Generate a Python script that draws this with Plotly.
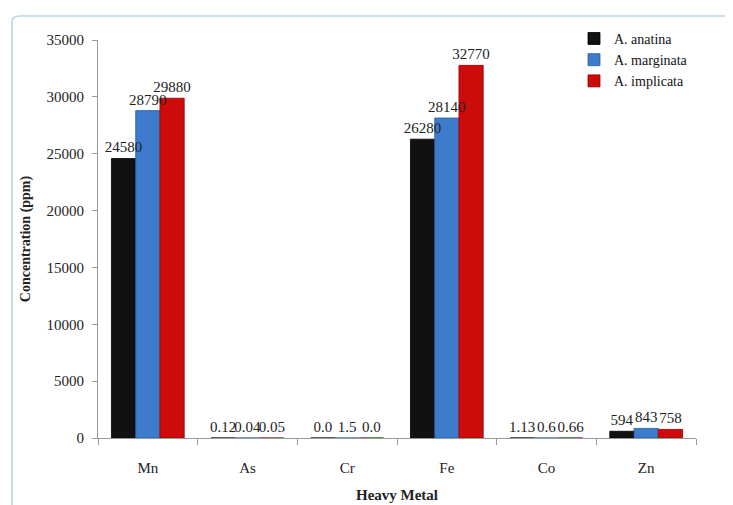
import plotly.graph_objects as go

metals = ["Mn", "As", "Cr", "Fe", "Co", "Zn"]
anatina = [24580, 0.12, 0.0, 26280, 1.13, 594]
marginata = [28790, 0.04, 1.5, 28140, 0.6, 843]
implicata = [29880, 0.05, 0.0, 32770, 0.66, 758]
anatina_lbl = ["24580", "0.12", "0.0", "26280", "1.13", "594"]
marginata_lbl = ["28790", "0.04", "1.5", "28140", "0.6", "843"]
implicata_lbl = ["29880", "0.05", "0.0", "32770", "0.66", "758"]
y_ticks = [0, 5000, 10000, 15000, 20000, 25000, 30000, 35000]
y_tick_text = ["0", "5000", "10000", "15000", "20000", "25000", "30000", "35000"]

FONT = "Liberation Serif, Times New Roman, serif"
TXT = "#222222"

fig = go.Figure()
series = [
    ("A. anatina", anatina, anatina_lbl, "#111111", "#000000", "a"),
    ("A. marginata", marginata, marginata_lbl, "#3d7ccc", "#2a5d9e", "b"),
    ("A. implicata", implicata, implicata_lbl, "#cc0b0b", "#990000", "c"),
]
for name, vals, lbl, col, edge, grp in series:
    fig.add_trace(go.Bar(
        x=metals, y=vals, name=name, offsetgroup=grp,
        marker=dict(color=col, line=dict(color=edge, width=0.8)),
    ))
# value labels drawn above all bars (transparent copies in same offset groups)
for name, vals, lbl, col, edge, grp in series:
    fig.add_trace(go.Bar(
        x=metals, y=vals, name=name, offsetgroup=grp, showlegend=False,
        text=lbl, textposition="outside", constraintext="none", cliponaxis=False,
        textfont=dict(family=FONT, size=15, color=TXT),
        marker=dict(color="rgba(0,0,0,0)", line=dict(width=0)),
        hoverinfo="skip",
    ))

fig.update_layout(
    width=725, height=497,
    margin=dict(l=90, r=37, t=32, b=67, autoexpand=False),
    paper_bgcolor="white", plot_bgcolor="white",
    barmode="group", bargap=0.27, bargroupgap=0,
    font=dict(family=FONT, size=15, color=TXT),
    showlegend=True,
    legend=dict(x=0.796, y=1.043, xanchor="left", yanchor="top",
                font=dict(family=FONT, size=14, color="#111111"),
                bgcolor="rgba(0,0,0,0)", itemwidth=30, tracegroupgap=0),
    xaxis=dict(
        automargin=False,
        showline=True, linecolor="#9a9a9a", linewidth=1,
        ticks="outside", tickson="boundaries", ticklen=6, tickcolor="#9a9a9a",
        ticklabelstandoff=16,
        tickfont=dict(family=FONT, size=15, color=TXT),
        title=dict(text="<b>Heavy Metal</b>", font=dict(family=FONT, size=15, color=TXT), standoff=14),
        showgrid=False,
    ),
    yaxis=dict(
        automargin=False,
        range=[0, 35000], tickvals=y_ticks, ticktext=y_tick_text,
        showline=True, linecolor="#9a9a9a", linewidth=1,
        ticks="outside", ticklen=5, tickcolor="#9a9a9a",
        ticklabelstandoff=5,
        tickfont=dict(family=FONT, size=15, color=TXT),
        title=dict(text="<b>Concentration (ppm)</b>", font=dict(family=FONT, size=14, color=TXT), standoff=12),
        showgrid=False, zeroline=False,
    ),
)

# outer chart frame
fig.add_shape(type="path", xref="paper", yref="paper",
              path="M -0.1438,-0.3 L -0.1438,1.045 Q -0.1438,1.0603 -0.13,1.0603 L 1.2,1.0603",
              line=dict(color="#b9d3dc", width=1.5))

fig.write_html("out.html")
